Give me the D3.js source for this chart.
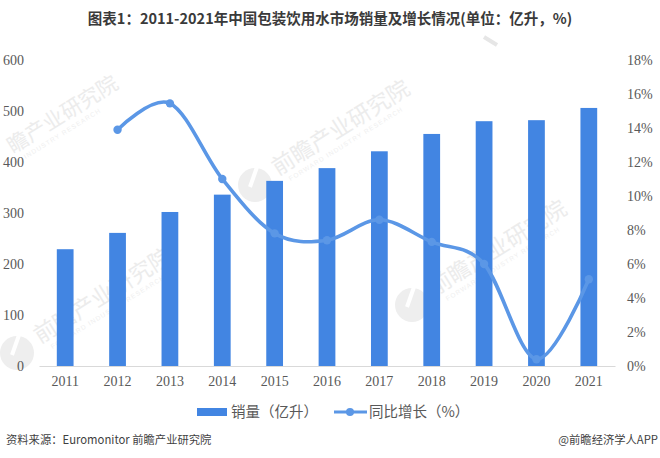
<!DOCTYPE html>
<html lang="zh">
<head>
    <meta charset="UTF-8">
    <title>D3</title>
    <script src="https://cdnjs.cloudflare.com/ajax/libs/d3/7.8.5/d3.min.js"></script>
    <style type="text/css">
        body { margin: 0; background: #fff; }
        svg { display: block; }
        .axis text { font-family: "Liberation Serif", serif; font-size: 14px; fill: #595959; }
    </style>
</head>
<body>
<div class="container"></div>
</body>
<script>
    const years = ['2011', '2012', '2013', '2014', '2015', '2016', '2017', '2018', '2019', '2020', '2021'];
    const sales = [229, 261, 302, 336, 363, 388, 421, 455, 480, 482, 506];
    const growth = [null, 13.9, 15.45, 11, 7.8, 7.4, 8.6, 7.3, 6, 0.4, 5.1];
    const salesTicks = [0, 100, 200, 300, 400, 500, 600];
    const growthTicks = [0, 2, 4, 6, 8, 10, 12, 14, 16, 18];
    const barColor = '#4285e2';
    const lineColor = '#5b97e6';
    const wmLabel = '前瞻产业研究院';
    const wmSub = 'FORWARD INDUSTRY RESEARCH';

    const svg = d3.select('.container')
        .append('svg')
        .attr('width', 660)
        .attr('height', 458);

    const x = d3.scaleBand().domain(years).range([39, 615]).paddingInner(0.68).paddingOuter(0.34);
    const yLeft = d3.scaleLinear().domain([0, 600]).range([366, 60]);
    const yRight = d3.scaleLinear().domain([0, 18]).range([366, 60]);

    // watermarks, the one at top left is cut by the page edge so it starts one glyph later
    const marks = svg.append('g');
    function watermark(tx, ty, label, sub, size) {
        const wm = marks.append('g')
            .attr('transform', `translate(${tx}, ${ty}) rotate(-32)`);
        wm.append('text')
            .text(label)
            .attr('font-family', '"Noto Sans CJK SC"')
            .attr('font-size', size)
            .attr('fill', '#ececec');
        wm.append('text')
            .text(sub)
            .attr('x', 8)
            .attr('y', 11)
            .attr('font-family', '"Liberation Sans"')
            .attr('font-size', 6.5)
            .attr('letter-spacing', 1.1)
            .attr('fill', '#efefef');
    }
    function logo(cx, cy) {
        marks.append('circle').attr('cx', cx).attr('cy', cy).attr('r', 17).attr('fill', '#eeeeee');
        marks.append('line')
            .attr('x1', cx + 2).attr('y1', cy - 18).attr('x2', cx - 5).attr('y2', cy + 2)
            .attr('stroke', '#fff').attr('stroke-width', 4);
    }
    watermark(13, 154, wmLabel.slice(1), 'INDUSTRY RESEARCH', 21);
    watermark(278, 176, wmLabel, wmSub, 22.5);
    logo(255, 185);
    watermark(40, 344, wmLabel, wmSub, 22.5);
    logo(17, 353);
    watermark(435, 296, wmLabel, wmSub, 22.5);
    logo(412, 305);
    marks.append('line')
        .attr('x1', 484).attr('y1', 37).attr('x2', 497).attr('y2', 45)
        .attr('stroke', '#e6e6e6').attr('stroke-width', 4);

    // bars
    svg.append('g').selectAll('rect')
        .data(sales)
        .enter()
        .append('rect')
        .attr('fill', barColor)
        .attr('x', (d, i) => x(years[i]))
        .attr('width', x.bandwidth())
        .attr('y', d => yLeft(d))
        .attr('height', d => yLeft(0) - yLeft(d));

    // axes
    const xAxis = svg.append('g')
        .attr('class', 'axis')
        .attr('transform', 'translate(0, 366)')
        .call(d3.axisBottom(x).tickSize(0).tickPadding(10));
    xAxis.select('.domain').attr('stroke', '#d9d9d9');

    const leftAxis = svg.append('g')
        .attr('class', 'axis')
        .attr('transform', 'translate(24, 0)')
        .call(d3.axisLeft(yLeft).tickValues(salesTicks).tickSize(0).tickPadding(0));
    leftAxis.select('.domain').remove();

    const rightAxis = svg.append('g')
        .attr('class', 'axis')
        .attr('transform', 'translate(627, 0)')
        .call(d3.axisRight(yRight).tickValues(growthTicks).tickSize(0).tickPadding(0).tickFormat(d => d + '%'));
    rightAxis.select('.domain').remove();

    // growth line
    const points = growth.map((d, i) => ({year: years[i], value: d})).filter(d => d.value !== null);
    const line = d3.line()
        .x(d => x(d.year) + x.bandwidth() / 2)
        .y(d => yRight(d.value))
        .curve(d3.curveCatmullRom.alpha(0));

    svg.append('path')
        .attr('fill', 'none')
        .attr('stroke', lineColor)
        .attr('stroke-width', 3.6)
        .attr('stroke-linecap', 'round')
        .attr('d', line(points));

    svg.append('g').selectAll('circle')
        .data(points)
        .enter()
        .append('circle')
        .attr('fill', lineColor)
        .attr('cx', d => x(d.year) + x.bandwidth() / 2)
        .attr('cy', d => yRight(d.value))
        .attr('r', 4.2);

    // title
    svg.append('text')
        .text('图表1：2011-2021年中国包装饮用水市场销量及增长情况(单位：亿升，%)')
        .attr('x', 330)
        .attr('y', 24)
        .attr('text-anchor', 'middle')
        .attr('font-family', '"Noto Sans CJK SC"')
        .attr('font-weight', 700)
        .attr('font-size', 14.5)
        .attr('fill', '#3a3a3a');

    // legend
    const legend = svg.append('g');
    legend.append('rect')
        .attr('x', 197).attr('y', 408).attr('width', 30).attr('height', 8)
        .attr('fill', barColor);
    legend.append('text')
        .text('销量（亿升）')
        .attr('x', 231).attr('y', 417)
        .attr('font-family', '"Noto Sans CJK SC"')
        .attr('font-size', 14.5)
        .attr('fill', '#595959');
    legend.append('line')
        .attr('x1', 334).attr('x2', 367).attr('y1', 412).attr('y2', 412)
        .attr('stroke', lineColor).attr('stroke-width', 3);
    legend.append('circle')
        .attr('cx', 350).attr('cy', 412).attr('r', 4)
        .attr('fill', lineColor);
    legend.append('text')
        .text('同比增长（%）')
        .attr('x', 369).attr('y', 417)
        .attr('font-family', '"Noto Sans CJK SC"')
        .attr('font-size', 14.5)
        .attr('fill', '#595959');

    // footer
    svg.append('text')
        .text('资料来源：Euromonitor 前瞻产业研究院')
        .attr('x', 6).attr('y', 444)
        .attr('font-family', '"Noto Sans CJK SC"')
        .attr('font-size', 11.3)
        .attr('fill', '#3f3f3f');
    svg.append('text')
        .text('@前瞻经济学人APP')
        .attr('x', 658).attr('y', 444)
        .attr('text-anchor', 'end')
        .attr('font-family', '"Noto Sans CJK SC"')
        .attr('font-size', 11.3)
        .attr('fill', '#3f3f3f');
</script>
</html>
